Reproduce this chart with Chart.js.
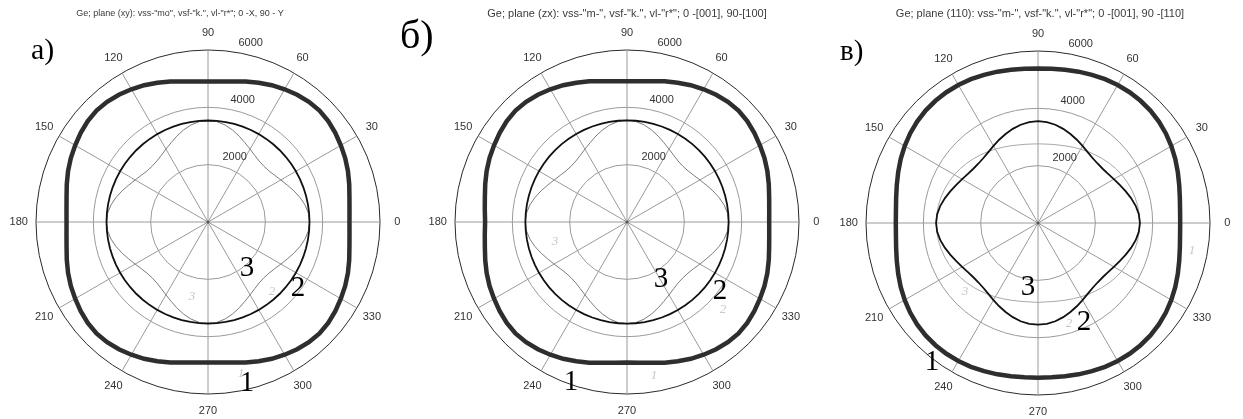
<!DOCTYPE html>
<html>
<head>
<meta charset="utf-8">
<title>Ge - phase velocity polar plots</title>
<script src="https://cdn.jsdelivr.net/npm/chart.js@4.4.1/dist/chart.umd.min.js"></script>
<style>
    html, body { margin: 0; padding: 0; background: #fff; }
    #wrap { position: relative; width: 1243px; height: 419px; overflow: hidden; }
    #wrap canvas { position: absolute; left: 0; top: 0; }
</style>
</head>
<body>
<div id="wrap">
    <canvas id="plotA" width="1243" height="419"></canvas>
    <canvas id="plotB" width="1243" height="419"></canvas>
    <canvas id="plotC" width="1243" height="419"></canvas>
</div>
<script>
const angleDeg = [
    0, 5, 10, 15, 20, 25, 30, 35, 40, 45, 50, 55, 60, 65, 70, 75, 80, 85,
    90, 95, 100, 105, 110, 115, 120, 125, 130, 135, 140, 145, 150, 155, 160, 165, 170, 175,
    180, 185, 190, 195, 200, 205, 210, 215, 220, 225, 230, 235, 240, 245, 250, 255, 260, 265,
    270, 275, 280, 285, 290, 295, 300, 305, 310, 315, 320, 325, 330, 335, 340, 345, 350, 355,
];
const angleTicks = [0, 30, 60, 90, 120, 150, 180, 210, 240, 270, 300, 330];
const ringTicks = [2000, 4000, 6000];

// a) plane (xy)
const xyLong = [
    4935, 4955, 5010, 5100, 5195, 5280, 5350, 5420, 5475, 5500, 5475, 5420, 5345, 5265, 5170, 5075, 4980, 4920,
    4900, 4920, 4980, 5075, 5170, 5265, 5345, 5420, 5475, 5500, 5475, 5420, 5350, 5280, 5195, 5100, 5010, 4955,
    4935, 4955, 5010, 5100, 5195, 5280, 5350, 5420, 5475, 5500, 5475, 5420, 5345, 5265, 5170, 5075, 4980, 4920,
    4905, 4920, 4980, 5075, 5170, 5265, 5345, 5420, 5475, 5500, 5475, 5420, 5350, 5280, 5195, 5100, 5010, 4955,
];
const xyFast = [
    3540, 3540, 3540, 3540, 3540, 3540, 3540, 3540, 3540, 3540, 3540, 3540, 3540, 3540, 3540, 3540, 3540, 3540,
    3540, 3540, 3540, 3540, 3540, 3540, 3540, 3540, 3540, 3540, 3540, 3540, 3540, 3540, 3540, 3540, 3540, 3540,
    3540, 3540, 3540, 3540, 3540, 3540, 3540, 3540, 3540, 3540, 3540, 3540, 3540, 3540, 3540, 3540, 3540, 3540,
    3540, 3540, 3540, 3540, 3540, 3540, 3540, 3540, 3540, 3540, 3540, 3540, 3540, 3540, 3540, 3540, 3540, 3540,
];
const xySlow = [
    3545, 3515, 3435, 3320, 3185, 3050, 2935, 2840, 2775, 2755, 2775, 2840, 2935, 3050, 3185, 3320, 3435, 3515,
    3545, 3515, 3435, 3320, 3185, 3050, 2935, 2840, 2775, 2755, 2775, 2840, 2935, 3050, 3185, 3320, 3435, 3515,
    3545, 3515, 3435, 3320, 3185, 3050, 2935, 2840, 2775, 2755, 2775, 2840, 2935, 3050, 3185, 3320, 3435, 3515,
    3545, 3515, 3435, 3320, 3185, 3050, 2935, 2840, 2775, 2755, 2775, 2840, 2935, 3050, 3185, 3320, 3435, 3515,
];

// б) plane (zx)
const zxLong = [
    4960, 4980, 5035, 5120, 5210, 5290, 5355, 5420, 5475, 5500, 5475, 5420, 5345, 5265, 5170, 5080, 4990, 4930,
    4910, 4930, 4990, 5080, 5170, 5265, 5345, 5420, 5475, 5500, 5475, 5420, 5355, 5290, 5210, 5120, 5035, 4980,
    4950, 4980, 5035, 5120, 5210, 5290, 5355, 5420, 5475, 5500, 5475, 5420, 5345, 5265, 5170, 5080, 4990, 4930,
    4905, 4930, 4990, 5080, 5170, 5265, 5345, 5420, 5475, 5500, 5475, 5420, 5355, 5290, 5210, 5120, 5035, 4980,
];
const zxFast = [
    3545, 3545, 3545, 3545, 3545, 3545, 3545, 3545, 3545, 3545, 3545, 3545, 3545, 3545, 3545, 3545, 3545, 3545,
    3545, 3545, 3545, 3545, 3545, 3545, 3545, 3545, 3545, 3545, 3545, 3545, 3545, 3545, 3545, 3545, 3545, 3545,
    3545, 3545, 3545, 3545, 3545, 3545, 3545, 3545, 3545, 3545, 3545, 3545, 3545, 3545, 3545, 3545, 3545, 3545,
    3545, 3545, 3545, 3545, 3545, 3545, 3545, 3545, 3545, 3545, 3545, 3545, 3545, 3545, 3545, 3545, 3545, 3545,
];
const zxSlow = [
    3550, 3520, 3440, 3320, 3185, 3050, 2935, 2840, 2775, 2755, 2775, 2840, 2935, 3050, 3185, 3320, 3440, 3520,
    3550, 3520, 3440, 3320, 3185, 3050, 2935, 2840, 2775, 2755, 2775, 2840, 2935, 3050, 3185, 3320, 3440, 3520,
    3550, 3520, 3440, 3320, 3185, 3050, 2935, 2840, 2775, 2755, 2775, 2840, 2935, 3050, 3185, 3320, 3440, 3520,
    3550, 3520, 3440, 3320, 3185, 3050, 2935, 2840, 2775, 2755, 2775, 2840, 2935, 3050, 3185, 3320, 3440, 3520,
];

// в) plane (110)
const p110Long = [
    4960, 4975, 5025, 5100, 5190, 5285, 5370, 5445, 5505, 5545, 5565, 5570, 5560, 5535, 5500, 5465, 5430, 5405,
    5390, 5405, 5430, 5465, 5500, 5535, 5560, 5570, 5565, 5545, 5505, 5445, 5370, 5285, 5190, 5100, 5025, 4975,
    4960, 4975, 5025, 5100, 5190, 5285, 5370, 5445, 5505, 5545, 5565, 5570, 5560, 5535, 5500, 5465, 5430, 5405,
    5400, 5405, 5430, 5465, 5500, 5535, 5560, 5570, 5565, 5545, 5505, 5445, 5370, 5285, 5190, 5100, 5025, 4975,
];
const p110Fast = [
    3555, 3530, 3460, 3360, 3250, 3145, 3055, 2985, 2945, 2935, 2960, 3020, 3105, 3205, 3305, 3400, 3480, 3535,
    3555, 3535, 3480, 3400, 3305, 3205, 3105, 3020, 2960, 2935, 2945, 2985, 3055, 3145, 3250, 3360, 3460, 3530,
    3555, 3530, 3460, 3360, 3250, 3145, 3055, 2985, 2945, 2935, 2960, 3020, 3105, 3205, 3305, 3400, 3480, 3535,
    3545, 3535, 3480, 3400, 3305, 3205, 3105, 3020, 2960, 2935, 2945, 2985, 3055, 3145, 3250, 3360, 3460, 3530,
];
const p110Slow = [
    3555, 3545, 3530, 3500, 3465, 3420, 3370, 3310, 3245, 3175, 3105, 3040, 2975, 2915, 2860, 2815, 2785, 2765,
    2760, 2765, 2785, 2815, 2860, 2915, 2975, 3040, 3105, 3175, 3245, 3310, 3370, 3420, 3465, 3500, 3530, 3545,
    3555, 3545, 3530, 3500, 3465, 3420, 3370, 3310, 3245, 3175, 3105, 3040, 2975, 2915, 2860, 2815, 2785, 2765,
    2770, 2765, 2785, 2815, 2860, 2915, 2975, 3040, 3105, 3175, 3245, 3310, 3370, 3420, 3465, 3500, 3530, 3545,
];

const pageW = 1243;
const pageH = 419;
const radiusPx = 172; // outer ring (6000)
const step = 360 / angleDeg.length;

// radar goes clockwise from the top, matlab polar goes counter-clockwise from the right
function radarIndex(deg) {
    return (((90 - deg) / step) % angleDeg.length + angleDeg.length) % angleDeg.length;
}
function toRadarOrder(values) {
    return angleDeg.map((d, i) => {
        const deg = ((90 - i * step) % 360 + 360) % 360;
        return values[angleDeg.indexOf(deg)];
    });
}

Chart.defaults.font.family = "'Liberation Sans', Arial, sans-serif";

// axis labels, title and the letters / curve numbers pasted on the figure
function textPlugin(panel) {
    return {
        id: "panelText",
        afterDraw(chart) {
            const scale = chart.scales.r;
            const ctx = chart.ctx;
            const rMax = ringTicks[ringTicks.length - 1];
            ctx.save();
            ctx.fillStyle = "#333";
            ctx.font = "11px 'Liberation Sans'";
            // spoke labels at 1.1 * rmax, centred
            ctx.textAlign = "center";
            ctx.textBaseline = "middle";
            const labelDist = scale.getDistanceFromCenterForValue(rMax * 1.1);
            angleTicks.forEach((a) => {
                const p = scale.getPointPosition(radarIndex(a), labelDist);
                ctx.fillText(String(a), p.x, p.y);
            });
            // ring labels at 82 deg, just outside each ring
            ctx.textAlign = "left";
            ctx.textBaseline = "bottom";
            ringTicks.forEach((v) => {
                const p = scale.getPointPosition(
                    radarIndex(82),
                    scale.getDistanceFromCenterForValue(v + ringTicks[0] / 20),
                );
                ctx.fillText("  " + v, p.x, p.y);
            });
            // small dot at the origin
            ctx.fillStyle = "#555";
            ctx.beginPath();
            ctx.arc(scale.xCenter, scale.yCenter, 1.5, 0, Math.PI * 2);
            ctx.fill();
            // title
            ctx.textAlign = "center";
            ctx.textBaseline = "middle";
            ctx.fillStyle = "#3a3a3a";
            ctx.font = panel.titleSize + "px 'Liberation Sans'";
            ctx.fillText(panel.title, panel.titleX, 14);
            // faint pencil numbers left on the scan
            ctx.fillStyle = "#c8c8c8";
            ctx.font = "italic 13px 'Liberation Serif'";
            panel.pencil.forEach((n) => ctx.fillText(n.text, n.x, n.y));
            // panel letter
            ctx.fillStyle = "#000";
            ctx.textAlign = "left";
            ctx.textBaseline = "alphabetic";
            ctx.font = panel.letterSize + "px 'Liberation Serif'";
            ctx.fillText(panel.letter, panel.letterX, panel.letterY);
            // curve numbers
            ctx.textAlign = "center";
            ctx.textBaseline = "middle";
            ctx.font = "29px 'Liberation Serif'";
            panel.numbers.forEach((n) => ctx.fillText(n.text, n.x, n.y));
            ctx.restore();
        },
    };
}

function createPanel(canvasId, panel, series) {
    const pad = {
        left: panel.cx - radiusPx,
        right: pageW - panel.cx - radiusPx,
        top: panel.cy - radiusPx,
        bottom: pageH - panel.cy - radiusPx,
    };
    return new Chart(document.getElementById(canvasId), {
        type: "radar",
        data: {
            labels: toRadarOrder(angleDeg).map(String),
            datasets: [
                {
                    data: toRadarOrder(series.longitudinal),
                    borderColor: "#2e2e2e",
                    borderWidth: 4.5,
                },
                {
                    data: toRadarOrder(series.fast),
                    borderColor: "#111",
                    borderWidth: 1.8,
                },
                {
                    data: toRadarOrder(series.slow),
                    borderColor: series.slowColour,
                    borderWidth: 1,
                },
            ],
        },
        options: {
            responsive: false,
            animation: false,
            layout: { padding: pad },
            elements: {
                point: { radius: 0, hoverRadius: 0 },
                line: { tension: 0, fill: false },
            },
            plugins: {
                legend: { display: false },
                tooltip: { enabled: false },
            },
            scales: {
                r: {
                    min: 0,
                    max: ringTicks[ringTicks.length - 1],
                    ticks: { display: false, stepSize: ringTicks[0] },
                    pointLabels: { display: false },
                    grid: {
                        circular: true,
                        lineWidth: 1,
                        color: (ctx) =>
                            ctx.tick && ctx.tick.value === ringTicks[ringTicks.length - 1]
                                ? "#2a2a2a"
                                : "#9a9a9a",
                    },
                    angleLines: {
                        color: "#9a9a9a",
                        lineWidth: (ctx) => (ctx.index % (30 / step) === 0 ? 1 : 0),
                    },
                },
            },
        },
        plugins: [textPlugin(panel)],
    });
}

createPanel(
    "plotA",
    {
        cx: 208, cy: 222,
        title: 'Ge; plane (xy): vss-"mo", vsf-"k.", vl-"r*"; 0 -X, 90 - Y',
        titleX: 180, titleSize: 9,
        letter: "а)", letterX: 31, letterY: 59, letterSize: 30,
        numbers: [
            { text: "3", x: 247, y: 268 },
            { text: "2", x: 298, y: 288 },
            { text: "1", x: 247, y: 383 },
        ],
        pencil: [
            { text: "3", x: 192, y: 297 },
            { text: "2", x: 272, y: 292 },
            { text: "1", x: 241, y: 374 },
        ],
    },
    { longitudinal: xyLong, fast: xyFast, slow: xySlow, slowColour: "#7c7c7c" },
);

createPanel(
    "plotB",
    {
        cx: 627, cy: 222,
        title: 'Ge; plane (zx): vss-"m-", vsf-"k.", vl-"r*"; 0 -[001], 90-[100]',
        titleX: 627, titleSize: 11,
        letter: "б)", letterX: 400, letterY: 48, letterSize: 40,
        numbers: [
            { text: "3", x: 661, y: 279 },
            { text: "2", x: 720, y: 291 },
            { text: "1", x: 571, y: 382 },
        ],
        pencil: [
            { text: "3", x: 555, y: 242 },
            { text: "2", x: 723, y: 310 },
            { text: "1", x: 654, y: 376 },
        ],
    },
    { longitudinal: zxLong, fast: zxFast, slow: zxSlow, slowColour: "#7c7c7c" },
);

createPanel(
    "plotC",
    {
        cx: 1038, cy: 223,
        title: 'Ge; plane (110): vss-"m-", vsf-"k.", vl-"r*"; 0 -[001], 90 -[110]',
        titleX: 1040, titleSize: 11,
        letter: "в)", letterX: 840, letterY: 60, letterSize: 29,
        numbers: [
            { text: "3", x: 1028, y: 287 },
            { text: "2", x: 1084, y: 322 },
            { text: "1", x: 932, y: 362 },
        ],
        pencil: [
            { text: "3", x: 965, y: 292 },
            { text: "2", x: 1069, y: 324 },
            { text: "1", x: 1192, y: 251 },
        ],
    },
    { longitudinal: p110Long, fast: p110Fast, slow: p110Slow, slowColour: "#a8a8a8" },
);
</script>
</body>
</html>
